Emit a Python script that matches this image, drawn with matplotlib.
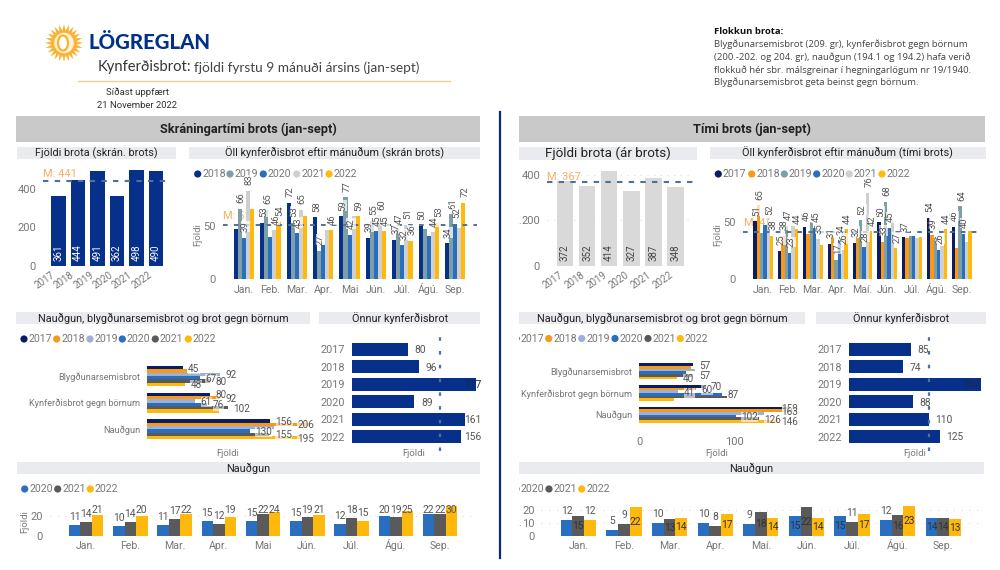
import numpy as np
import matplotlib
matplotlib.use("Agg")
import matplotlib.pyplot as plt
from matplotlib.patches import Polygon, Circle, Ellipse, Rectangle
from matplotlib.transforms import Affine2D

W, H = 1000, 570
NAVY = "#06308A"
GREY = "#777777"
DARK = "#555555"
ORANGE = "#F7B063"
DASH = "#4F7199"
C17 = "#0B1C66"
C18 = "#F79A17"
C19L = "#7F9FA6"
C19R = "#9DB0D6"
C20 = "#2A6EC0"
C21L = "#CFCFCF"
C21D = "#5A5A5A"
C22 = "#FFB80C"

years = ["2017", "2018", "2019", "2020", "2021", "2022"]
months_a = ["Jan.", "Feb.", "Mar.", "Apr.", "Mai", "Jún.", "Júl.", "Ágú.", "Sep."]
months_b = ["Jan.", "Feb.", "Mar.", "Apr.", "Maí.", "Jún.", "Júl.", "Ágú.", "Sep."]
cats = ["Blygðunarsemisbrot", "Kynferðisbrot gegn börnum", "Nauðgun"]

# skráningartími
reg_total = [361, 444, 491, 362, 498, 490]
reg_month_2018 = [47, 53, 72, 58, 59, 39, 37, 50, 34]
reg_month_2019 = [66, 65, 53, 27, 77, 55, 47, 47, 61]
reg_month_2020 = [39, 40, 43, 32, 42, 45, 32, 41, 52]
reg_month_2021 = [83, 46, 65, 46, 59, 60, 51, 44, 48]
reg_month_2022 = [66, 54, 59, 46, 59, 45, 36, 53, 72]
# month indexes where the report dropped the label
reg_month_hide = [[0], [7], [1, 3, 7], [3, 4, 8], [0, 2]]
reg_blyg = [45, 50, 92, 67, 80, 48]
reg_kynf = [80, 92, 61, 76, 102, 91]
reg_naud = [156, 206, 161, 130, 155, 195]
reg_cat_hide = [[1], [5], [2]]
reg_other = [80, 96, 177, 89, 161, 156]
reg_rape_2020 = [11, 10, 11, 15, 15, 15, 12, 20, 22]
reg_rape_2021 = [14, 14, 17, 12, 22, 19, 18, 19, 22]
reg_rape_2022 = [21, 20, 22, 19, 24, 21, 15, 25, 30]

# tími brots
occ_total = [372, 352, 414, 327, 387, 348]
occ_month_2017 = [51, 25, 46, 31, 32, 50, 37, 54, 46]
occ_month_2018 = [65, 38, 40, 38, 36, 33, 36, 39, 27]
occ_month_2019 = [41, 47, 50, 17, 52, 68, 38, 36, 64]
occ_month_2020 = [48, 23, 45, 34, 28, 45, 38, 26, 40]
occ_month_2021 = [52, 47, 35, 26, 76, 52, 36, 29, 33]
occ_month_2022 = [38, 44, 30, 44, 42, 27, 37, 44, 42]
occ_month_hide = [[], [2, 3, 4, 6, 8], [0, 2, 6, 7], [0, 6], [1, 5, 6, 7, 8], [2, 6, 8]]
occ_blyg = [57, 55, 59, 49, 57, 40]
occ_kynf = [70, 60, 41, 87, 93, 37]
occ_naud = [159, 163, 132, 102, 126, 146]
occ_cat_hide = [[1, 2, 3], [4, 5], [2]]
occ_other = [85, 74, 182, 88, 110, 125]
occ_rape_2020 = [12, 5, 10, 10, 9, 15, 15, 12, 14]
occ_rape_2021 = [15, 9, 13, 8, 18, 22, 11, 16, 14]
occ_rape_2022 = [12, 22, 14, 17, 14, 14, 17, 23, 13]

plt.rcParams["font.family"] = ["Roboto", "DejaVu Sans"]
fig = plt.figure(figsize=(W / 100, H / 100), dpi=100)

# page overlay in pixel coordinates for boxes, legends and loose text
page = fig.add_axes([0, 0, 1, 1], zorder=0)
page.set_xlim(0, W)
page.set_ylim(H, 0)
page.axis("off")


def px_axes(x0, y0, x1, y1):
    ax = fig.add_axes([x0 / W, 1 - y1 / H, (x1 - x0) / W, (y1 - y0) / H], zorder=1)
    ax.patch.set_alpha(0)
    for s in ax.spines.values():
        s.set_visible(False)
    ax.tick_params(length=0, labelcolor=GREY)
    return ax


def box(x0, y0, x1, y1, label, color="#E9EBEF", size=7.8, weight="normal"):
    page.add_patch(Rectangle((x0, y0), x1 - x0, y1 - y0, fc=color, ec="none"))
    page.text((x0 + x1) / 2, (y0 + y1) / 2, label, ha="center", va="center", fontsize=size,
              color="#222222", weight=weight)


def legend(entries, y, clip_x=None):
    for cx, name, col in entries:
        c = Circle((cx, y), 3.6, fc=col, ec="none", zorder=3)
        page.add_patch(c)
        if clip_x is not None:
            c.set_clip_path(Rectangle((clip_x, 0), W, H, transform=page.transData))
        page.text(cx + 4.5, y, name, ha="left", va="center", fontsize=7.6, color=GREY)


def baseline_ticks(ax, labels, pad):
    # month names with an accent must not sink below the others
    ax.set_xticks(np.arange(len(labels)))
    ax.set_xticklabels(labels, fontsize=7.6, va="baseline")
    ax.tick_params(axis="x", pad=pad)


def total_panel(box_px, vals, xlim, ylim, color, lab_color, mean, mean_txt, txt_xy, width, grid, tick_shift):
    ax = px_axes(*box_px)
    x = np.arange(len(vals))
    ax.bar(x, vals, width=width, color=color, zorder=2)
    ax.set_xlim(*xlim)
    ax.set_ylim(*ylim)
    ax.set_yticks([0, 200, 400])
    ax.tick_params(axis="y", labelsize=8, pad=5)
    ax.set_xticks(x)
    ax.set_xticklabels(years, rotation=35, ha="right", rotation_mode="anchor", fontsize=7)
    ax.tick_params(axis="x", pad=3)
    for lab in ax.get_xticklabels():
        lab.set_transform(lab.get_transform() + Affine2D().translate(tick_shift, 0))
    if grid:
        for v in (200, 400):
            ax.axhline(v, color="#DDDDDD", lw=0.8, ls=(0, (1, 5)), zorder=1)
    ax.axhline(mean, color=DASH, lw=1.5, ls=(0, (2.6, 3.0)), zorder=3)
    for xi, v in zip(x, vals):
        ax.annotate(str(v), (xi, 0), xytext=(0, 3.5), textcoords="offset points", rotation=90,
                    ha="center", va="bottom", fontsize=7, color=lab_color, zorder=4)
    page.text(*txt_xy, mean_txt, color=ORANGE, fontsize=8, ha="left", va="center")
    return ax


def month_panel(box_px, series, cols, hide, xlim, ylim, mean, mean_txt, txt_xy, width, labels):
    ax = px_axes(*box_px)
    n = len(series)
    x = np.arange(9)
    for i, (vals, col) in enumerate(zip(series, cols)):
        pos = x + (i - (n - 1) / 2) * width
        ax.bar(pos, vals, width=width, color=col, zorder=2)
    ax.set_xlim(*xlim)
    ax.set_ylim(*ylim)
    ax.axhline(mean, color=DASH, lw=1.4, ls=(0, (2.4, 3.2)), zorder=3)
    for i, vals in enumerate(series):
        pos = x + (i - (n - 1) / 2) * width
        for j, v in enumerate(vals):
            if j in hide[i]:
                continue
            ax.annotate(str(v), (pos[j], v), xytext=(1, 4), textcoords="offset points", rotation=90,
                        ha="center", va="bottom", fontsize=6.8, color=DARK, zorder=4,
                        bbox=dict(fc="white", ec="none", pad=0.1, alpha=0.7))
    baseline_ticks(ax, labels, 10)
    ax.set_yticks([0, 50])
    ax.tick_params(axis="y", labelsize=8, pad=5)
    page.text(*txt_xy, mean_txt, color=ORANGE, fontsize=8, ha="left", va="center")
    return ax


def cat_panel(box_px, series, hide, xlim, ylim, bar_h):
    ax = px_axes(*box_px)
    cols = [C17, C18, C19R, C20, C21D, C22]
    scale = (box_px[2] - box_px[0]) / (xlim[1] - xlim[0])
    for g, vals in enumerate(series):
        for i, v in enumerate(vals):
            ax.barh(g + (i - 2.5) * bar_h, v, height=bar_h, color=cols[i], zorder=2)
    for g, vals in enumerate(series):
        for i, v in enumerate(vals):
            if i in hide[g]:
                continue
            end = v + 5.5 / scale
            txt_w = 12 if v >= 100 else 8.5
            if end + txt_w / scale > xlim[1]:
                end = xlim[1] - txt_w / scale
            ax.annotate(str(v), (end, g + (i - 2.5) * bar_h), xytext=(0, -0.8), textcoords="offset points",
                        ha="left", va="center", fontsize=7.2, color=DARK, zorder=4, annotation_clip=False,
                        bbox=dict(fc="white", ec="none", pad=0.1, alpha=0.6))
    ax.set_xlim(*xlim)
    ax.set_ylim(*ylim)
    ax.set_yticks(range(3))
    ax.set_yticklabels(cats, fontsize=6.6)
    ax.set_xticks([])
    ax.tick_params(axis="y", pad=5)
    return ax


def other_panel(box_px, vals, xlim, mean, inner_pad):
    ax = px_axes(*box_px)
    y = np.arange(6)
    ax.barh(y, vals, height=0.745, color=NAVY, zorder=2)
    ax.set_xlim(*xlim)
    ax.set_ylim(5.5 + 0.33, -0.5 - 0.44)
    ax.axvline(mean, color=DASH, lw=1.6, ls=(0, (1.6, 4.6)), zorder=3)
    scale = (box_px[2] - box_px[0]) / (xlim[1] - xlim[0])
    for yi, v in zip(y, vals):
        if v == xlim[1]:
            xt, col = xlim[1] - inner_pad / scale, "#1B2A4A"
        else:
            xt, col = min(v + 6.5 / scale, xlim[1] - 12 / scale), DARK
        ax.text(xt, yi + 0.05, str(v), ha="left", va="center", fontsize=7.4, color=col, zorder=4, clip_on=False)
    ax.set_yticks(y)
    ax.set_yticklabels(years, fontsize=7.8)
    ax.set_xticks([])
    ax.tick_params(axis="y", pad=5)
    return ax


def rape_panel(box_px, series, xlim, ylim, yticks, labels, offset_px, width, tick_pad, inside_above=None, cap=None):
    ax = px_axes(*box_px)
    cols = [C20, C21D, C22]
    x = np.arange(9)
    for v in yticks:
        ax.axhline(v, color="#DDDDDD", lw=0.8, ls=(0, (1, 6)), zorder=1)
    scale = (box_px[3] - box_px[1]) / (ylim[1] - ylim[0])
    for i, (vals, col) in enumerate(zip(series, cols)):
        pos = x + (i - 1) * width
        ax.bar(pos, vals, width=width, color=col, zorder=2)
        for p, v in zip(pos, vals):
            if inside_above is not None and v > inside_above:
                yt = v / 2
                c = "#333333"
            else:
                yt = v + offset_px / scale
                c = DARK
            if cap is not None:
                yt = min(yt, cap)
            ax.text(p, yt, str(v), ha="center", va="center", fontsize=7.4, color=c, zorder=4)
    ax.set_xlim(*xlim)
    ax.set_ylim(*ylim)
    baseline_ticks(ax, labels, 9.5)
    ax.set_yticks(yticks)
    ax.tick_params(axis="y", labelsize=8, pad=tick_pad)
    return ax


# ---- logo and heading ----
ang = np.linspace(0, 2 * np.pi, 48, endpoint=False)
rad = np.where(np.arange(48) % 2 == 0, 19.0, 12.5)
page.add_patch(Polygon(np.c_[64 + rad * np.cos(ang), 43 + rad * np.sin(ang)], fc="#F9B233", ec="none"))
page.add_patch(Ellipse((64, 43), 21, 22, fc="#FFF3D6", ec="#F9B233", lw=1))
page.add_patch(Ellipse((63, 43), 10, 15, fc="white", ec="#F9B233", lw=1.6))
page.text(150, 42.5, "LÖGREGLAN", ha="center", va="center", fontsize=14.7, color="#003087",
          weight="black", family="Lato")
page.text(97.5, 67.5, "Kynferðisbrot:", ha="left", va="center", fontsize=10.6, color="#333333", family="Lato")
page.text(194, 68, "fjöldi fyrstu 9 mánuði ársins (jan-sept)", ha="left", va="center", fontsize=9.8,
          color="#444444", family="Lato")
page.plot([78, 450], [80.5, 80.5], color="#F6CC96", lw=1)
page.text(137, 92, "Síðast uppfært", ha="center", va="center", fontsize=6.8, color="#333333")
page.text(137, 106, "21 November 2022", ha="center", va="center", fontsize=6.8, color="#333333")

page.text(714.5, 31.5, "Flokkun brota:", ha="left", va="center", fontsize=6.8, weight="bold",
          color="#111111", family="Open Sans")
notes = [
    "Blygðunarsemisbrot (209. gr), kynferðisbrot gegn börnum",
    "(200.-202. og 204. gr), nauðgun (194.1 og 194.2) hafa verið",
    "flokkuð hér sbr. málsgreinar í hegningarlögum nr 19/1940.",
    "Blygðunarsemisbrot geta beinst gegn börnum.",
]
for yy, line in zip([44.5, 57, 70, 82.5], notes):
    page.text(714.5, yy, line, ha="left", va="center", fontsize=6.8, color="#444444", family="Open Sans")

page.plot([499.5, 499.5], [112, 558], color="#0B2A78", lw=1.6)

# ---- panel headings ----
box(16, 116, 480, 142, "Skráningartími brots (jan-sept)", color="#C9C9C9", size=9.2, weight="bold")
box(519, 116, 985, 142, "Tími brots (jan-sept)", color="#C9C9C9", size=9.2, weight="bold")
box(16.7, 146.7, 175.7, 159, "Fjöldi brota (skrán. brots)")
box(189, 147, 480, 159, "Öll kynferðisbrot eftir mánuðum (skrán brots)")
box(519, 147.3, 696.7, 160, "Fjöldi brota (ár brots)", size=9.6)
box(710, 147, 985.7, 159, "Öll kynferðisbrot eftir mánuðum (tími brots)")
box(16, 312, 310, 324, "Nauðgun, blygðunarsemisbrot og brot gegn börnum")
box(319.3, 312, 480, 324, "Önnur kynferðisbrot")
box(519, 312, 805, 324, "Nauðgun, blygðunarsemisbrot og brot gegn börnum")
box(816, 312, 985.7, 324, "Önnur kynferðisbrot")
box(16.7, 462.3, 480, 474, "Nauðgun")
box(519, 462.3, 984, 474, "Nauðgun")

# ---- legends ----
legend(list(zip([197.7, 230, 263.3, 296.7, 329], years[1:], [NAVY, C19L, C20, C21L, C22])), 174)
legend(list(zip([718.3, 751.7, 784.3, 816.7, 849.3, 882], years, [C17, C18, C19L, C20, C21L, C22])), 174)
legend(list(zip([24, 56.7, 90, 122.3, 155.3, 188.3], years, [C17, C18, C19R, C20, C21D, C22])), 339)
legend(list(zip([516, 548.7, 581.7, 615, 648, 680.3], years, [C17, C18, C19R, C20, C21D, C22])), 338.5, clip_x=518.5)
legend(list(zip([24.7, 57.7, 90.3], years[3:], [C20, C21D, C22])), 489)
legend(list(zip([516, 549, 581.7], years[3:], [C20, C21D, C22])), 489, clip_x=518.5)

# ---- skráningartími ----
total_panel((43, 160, 169, 266), reg_total, (-0.795, 5.667), (0, 106 / 0.1935), NAVY, "white",
            441, "M: 441", (43.3, 174), 0.76, False, -8)
month_panel((223, 180, 477, 279.3),
            [reg_month_2018, reg_month_2019, reg_month_2020, reg_month_2021, reg_month_2022],
            [NAVY, C19L, C20, C21L, C22], reg_month_hide, (-0.795, 8.826), (0, 99.3 / 1.066),
            51, "M: 51", (223.3, 216), 0.154, months_a)
cat_panel((147.3, 359, 309.5, 446), [reg_blyg, reg_kynf, reg_naud], reg_cat_hide, (0, 206),
          (2 + 16.7 / 26.67, -17 / 26.67), 0.125)
other_panel((352.3, 333, 476, 451), reg_other, (0, 177), 126, 12)
rape_panel((50, 500, 476, 536.3), [reg_rape_2020, reg_rape_2021, reg_rape_2022],
           (-0.814, 8.81), (0, 36.3), [0, 20], months_a, 8, 0.26, 5, cap=26.3)

# ---- tími brots ----
total_panel((547, 160, 693, 266), occ_total, (-0.816, 5.8), (0, 106 / 0.2283), "#D9D9D9", "#444444",
            367, "M: 367", (547.3, 176.7), 0.757, True, -6)
month_panel((743, 175, 982, 279),
            [occ_month_2017, occ_month_2018, occ_month_2019, occ_month_2020, occ_month_2021, occ_month_2022],
            [C17, C18, C19L, C20, C21L, C22], occ_month_hide, (-0.819, 8.82), (0, 104 / 1.133),
            41.7, "M: 41", (744, 223), 0.134, months_b)
ax_c = cat_panel((639.3, 356, 793.6, 431), [occ_blyg, occ_kynf, occ_naud], occ_cat_hide, (0, 163),
                 (2 + 16.4 / 21.67, -15.3 / 21.67), 2.67 / 21.67)
ax_c.set_xticks([0, 100])
ax_c.tick_params(axis="x", labelsize=8, pad=4)
other_panel((849, 333, 981.3, 451), occ_other, (0, 182), 110.4, 19)
rape_panel((541, 503, 982, 536.3), [occ_rape_2020, occ_rape_2021, occ_rape_2022],
           (-0.818, 8.85), (0, 25), [0, 10, 20], months_b, 9, 0.257, 4.5, inside_above=12)

# ---- axis titles ----
page.text(197.7, 235, "Fjöldi", rotation=90, ha="center", va="center", fontsize=6.8, color=GREY)
page.text(718, 235, "Fjöldi", rotation=90, ha="center", va="center", fontsize=6.8, color=GREY)
page.text(24.7, 521.7, "Fjöldi", rotation=90, ha="center", va="center", fontsize=6.8, color=GREY)
page.text(228, 454, "Fjöldi", ha="center", va="center", fontsize=6.8, color=GREY)
page.text(414, 454, "Fjöldi", ha="center", va="center", fontsize=6.8, color=GREY)
page.text(717, 453, "Fjöldi", ha="center", va="center", fontsize=6.8, color=GREY)
page.text(915, 454, "Fjöldi", ha="center", va="center", fontsize=6.8, color=GREY)
page.text(520, 221, ".", ha="center", va="center", fontsize=7, color=GREY)
page.text(520, 523, ".", ha="center", va="center", fontsize=7, color=GREY)

fig.savefig("out.png", dpi=100)
